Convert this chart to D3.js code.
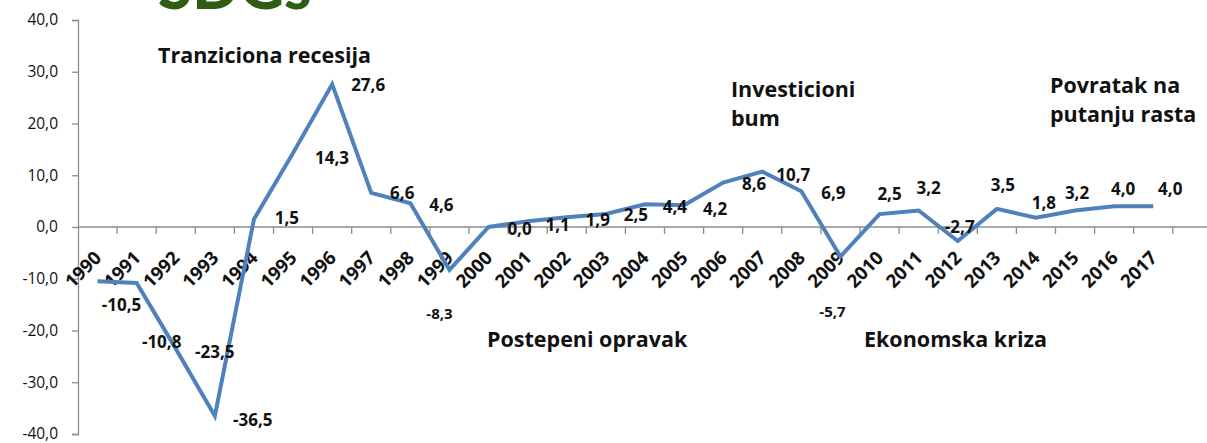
<!DOCTYPE html>
<html>
<head>
<meta charset="utf-8">
<script src="https://cdn.jsdelivr.net/npm/d3@7"></script>
<style>
  body { margin: 0; background: #fff; }
  svg { display: block; font-family: "Open Sans", Lato, sans-serif; }
</style>
</head>
<body>
<svg id="chart"></svg>
<script>
const years = ["1990","1991","1992","1993","1994","1995","1996","1997","1998","1999",
  "2000","2001","2002","2003","2004","2005","2006","2007","2008","2009",
  "2010","2011","2012","2013","2014","2015","2016","2017"];
const growth = [-10.5, -10.8, -23.5, -36.5, 1.5, 14.3, 27.6, 6.6, 4.6, -8.3,
  0.0, 1.1, 1.9, 2.5, 4.4, 4.2, 8.6, 10.7, 6.9, -5.7,
  2.5, 3.2, -2.7, 3.5, 1.8, 3.2, 4.0, 4.0];
const yTicks = [-40, -30, -20, -10, 0, 10, 20, 30, 40];
const phaseNames = [["Tranziciona recesija"], ["Investicioni", "bum"], ["Povratak na", "putanju rasta"],
  ["Postepeni opravak"], ["Ekonomska kriza"]];

// hand placement of the value labels, pixels from the point
const labelNudge = [[24,24],[25,59],[39,3],[38,4],[33,-1],[39,5],[36,1],[31,0],[31,2],[-10,43],
  [31,2],[30,4],[31,3],[30,1],[30,3],[31,4],[31,2],[31,3],[32,2],[-8,55],
  [10,-20],[10,-22],[2,-14],[6,-24],[8,-15],[2,-17],[9,-17],[17,-17]];
// phase titles: [x, baseline y] of first line
const phasePos = [[158, 63], [731, 97], [1050, 93], [487, 347], [864, 347]];

const width = 1207, height = 443;
const svg = d3.select("#chart").attr("width", width).attr("height", height);
const fmt = v => d3.format(".1f")(v).replace(".", ",").replace("−", "-");

const x = d3.scaleLinear().domain([0, 29]).range([78, 78 + 29 * 39.1]);
const y = d3.scaleLinear().domain([-40, 40]).range([434, 20]);
const axisColor = "#8c8c8c";

// cut-off title at top
svg.append("text")
  .attr("x", 158).attr("y", 9)
  .attr("font-family", "Lato")
  .attr("font-size", 62).attr("font-weight", 900)
  .attr("fill", "#2f5d14")
  .text("SDGs");

// y axis
const yAxis = svg.append("g")
  .attr("transform", `translate(${x(0)},0)`)
  .call(d3.axisLeft(y).tickValues(yTicks).tickSize(6).tickPadding(14).tickFormat(fmt));
yAxis.select(".domain").attr("stroke", axisColor).attr("stroke-width", 1.3);
yAxis.selectAll(".tick line").attr("stroke", axisColor).attr("stroke-width", 1.3);
yAxis.selectAll(".tick text").attr("font-size", 15.5).attr("fill", "#111").attr("font-family", "Open Sans");

// x axis along zero
const xg = svg.append("g").attr("transform", `translate(0,${y(0)})`);
xg.append("line").attr("x1", x(0)).attr("x2", width).attr("stroke", axisColor).attr("stroke-width", 1.3);
xg.selectAll("line.tk").data(d3.range(1, 29)).join("line")
  .attr("class", "tk")
  .attr("x1", d => x(d)).attr("x2", d => x(d))
  .attr("y1", 0).attr("y2", 7)
  .attr("stroke", axisColor).attr("stroke-width", 1.3);
xg.selectAll("text").data(years).join("text")
  .attr("transform", (d, i) => `translate(${x(i + 0.5) + 5},${32}) rotate(-45)`)
  .attr("text-anchor", "end")
  .attr("font-size", 18.5).attr("font-weight", 700).attr("fill", "#111")
  .text(d => d);

// line
const line = d3.line().x((d, i) => x(i + 0.5)).y(d => y(d));
svg.append("path")
  .datum(growth)
  .attr("fill", "none")
  .attr("stroke", "#4f81bd")
  .attr("stroke-width", 4)
  .attr("stroke-linejoin", "miter")
  .attr("d", line);

// value labels
svg.selectAll("text.val").data(growth).join("text")
  .attr("class", "val")
  .attr("x", (d, i) => x(i + 0.5) + labelNudge[i][0])
  .attr("y", (d, i) => y(d) + labelNudge[i][1] + 6)
  .attr("text-anchor", "middle")
  .attr("font-size", (d, i) => (i === 9 || i === 19) ? 15 : 17)
  .attr("font-weight", 700).attr("fill", "#111")
  .text(d => fmt(d));

// phase titles
phaseNames.forEach((lines, k) => {
  const t = svg.append("text")
    .attr("x", phasePos[k][0]).attr("y", phasePos[k][1])
    .attr("font-size", 21.5).attr("font-weight", 700).attr("fill", "#111");
  lines.forEach((s, j) => t.append("tspan").attr("x", phasePos[k][0]).attr("dy", j ? 29 : 0).text(s));
});
</script>
</body>
</html>
